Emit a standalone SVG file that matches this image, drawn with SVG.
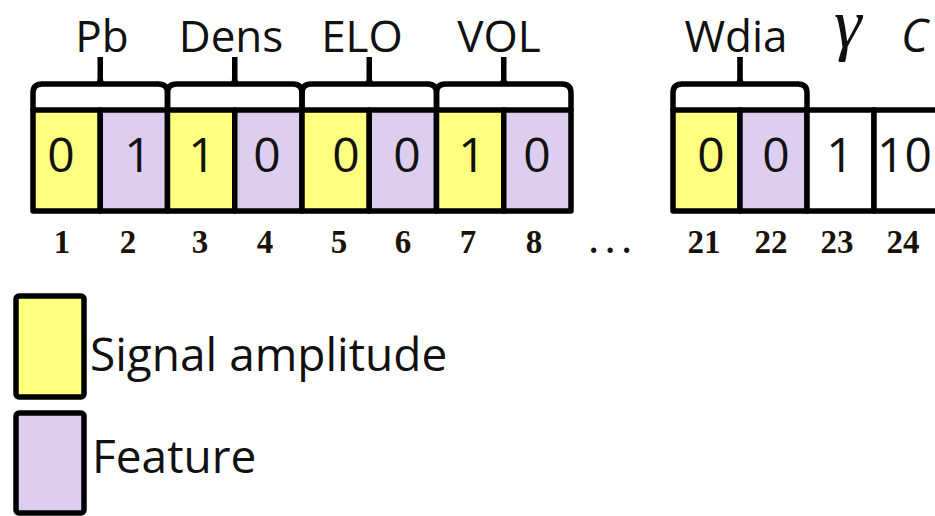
<svg xmlns="http://www.w3.org/2000/svg" width="935" height="516" viewBox="0 0 935 516">
  <style>
    .cell { stroke: #000; stroke-width: 5.5; stroke-linejoin: round; }
    .amp { fill: #FFFF7F; }
    .feat { fill: #DDCDEE; }
    .blank { fill: #FFFFFF; }
    .val { font-family: "Open Sans", "Noto Sans", sans-serif; font-size: 48px; fill: #111; text-anchor: middle; }
    .val.start { text-anchor: start; }
    .idx { font-family: "Liberation Serif", "Times New Roman", serif; font-weight: bold; font-size: 33px; fill: #1a1208; text-anchor: middle; }
    .lbl { font-family: "Open Sans", "Noto Sans", sans-serif; font-size: 44px; fill: #111; text-anchor: middle; }
    .brace { fill: none; stroke: #000; stroke-width: 5.5; stroke-linejoin: round; stroke-linecap: round; }
    .stem { fill: #000; }
    .legend { font-family: "Open Sans", "Noto Sans", sans-serif; font-size: 46px; fill: #111; }
  </style>

  <rect width="935" height="516" fill="#FFFFFF"/>

  <!-- group labels -->
  <g id="labels">
    <text class="lbl" x="102" y="52">Pb</text>
    <text class="lbl" x="231" y="52">Dens</text>
    <text class="lbl" x="362" y="52">ELO</text>
    <text class="lbl" x="499" y="52">VOL</text>
    <text class="lbl" x="736" y="52">Wdia</text>
    <text x="834" y="47" font-family="Liberation Serif, serif" font-style="italic" font-size="70" fill="#111">γ</text>
    <text x="901" y="52" font-family="Open Sans, sans-serif" font-style="italic" font-size="46" fill="#111">C</text>
  </g>

  <!-- braces grouping cell pairs -->
  <g id="connectors">
    <path class="brace" d="M33 110 V93 Q33 84 42 84 H158.5 Q167.5 84 167.5 93 V110"/>
    <path class="stem" d="M97.5 57 H103 V79 Q103.5 84 108 85 H92.5 Q97 84 97.5 79 Z"/>
    <path class="brace" d="M167.5 110 V93 Q167.5 84 176.5 84 H293 Q302 84 302 93 V110"/>
    <path class="stem" d="M232 57 H237.5 V79 Q238 84 242.5 85 H227 Q231.5 84 232 79 Z"/>
    <path class="brace" d="M302 110 V93 Q302 84 311 84 H427.5 Q436.5 84 436.5 93 V110"/>
    <path class="stem" d="M366.5 57 H372 V79 Q372.5 84 377 85 H361.5 Q366 84 366.5 79 Z"/>
    <path class="brace" d="M436.5 110 V93 Q436.5 84 445.5 84 H562 Q571 84 571 93 V110"/>
    <path class="stem" d="M501 57 H506.5 V79 Q507 84 511.5 85 H496 Q500.5 84 501 79 Z"/>
    <path class="brace" d="M673 110 V93 Q673 84 682 84 H798 Q807 84 807 93 V110"/>
    <path class="stem" d="M737.2 57 H742.8 V79 Q743.3 84 747.8 85 H732.2 Q736.7 84 737.2 79 Z"/>
  </g>

  <!-- cells 1-8 -->
  <g id="cell-1"><rect class="cell amp" x="33" y="110" width="67.25" height="101"/><text class="val" x="61" y="172">0</text><text class="idx" x="62" y="253">1</text></g>
  <g id="cell-2"><rect class="cell feat" x="100.25" y="110" width="67.25" height="101"/><text class="val" x="138" y="172">1</text><text class="idx" x="128" y="253">2</text></g>
  <g id="cell-3"><rect class="cell amp" x="167.5" y="110" width="67.25" height="101"/><text class="val" x="202" y="172">1</text><text class="idx" x="200" y="253">3</text></g>
  <g id="cell-4"><rect class="cell feat" x="234.75" y="110" width="67.25" height="101"/><text class="val" x="267" y="172">0</text><text class="idx" x="265" y="253">4</text></g>
  <g id="cell-5"><rect class="cell amp" x="302" y="110" width="67.25" height="101"/><text class="val" x="346" y="172">0</text><text class="idx" x="339" y="253">5</text></g>
  <g id="cell-6"><rect class="cell feat" x="369.25" y="110" width="67.25" height="101"/><text class="val" x="407" y="172">0</text><text class="idx" x="403" y="253">6</text></g>
  <g id="cell-7"><rect class="cell amp" x="436.5" y="110" width="67.25" height="101"/><text class="val" x="472" y="172">1</text><text class="idx" x="468" y="253">7</text></g>
  <g id="cell-8"><rect class="cell feat" x="503.75" y="110" width="67.25" height="101"/><text class="val" x="537" y="172">0</text><text class="idx" x="534" y="253">8</text></g>

  <text id="ellipsis" class="idx" x="610" y="253">. . .</text>

  <!-- cells 21-24 -->
  <g id="cell-21"><rect class="cell amp" x="673" y="110" width="67" height="101"/><text class="val" x="711" y="172">0</text><text class="idx" x="704" y="253">21</text></g>
  <g id="cell-22"><rect class="cell feat" x="740" y="110" width="67" height="101"/><text class="val" x="776" y="172">0</text><text class="idx" x="771" y="253">22</text></g>
  <g id="cell-23"><rect class="cell blank" x="807" y="110" width="67" height="101"/><text class="val" x="840" y="172">1</text><text class="idx" x="837" y="253">23</text></g>
  <g id="cell-24"><rect class="cell blank" x="874" y="110" width="67" height="101"/><text class="val start" x="877" y="172">10</text><text class="idx" x="903" y="253">24</text></g>

  <!-- legend -->
  <g id="legend-amplitude">
    <rect class="cell amp" x="16" y="296" width="68" height="101" rx="3" stroke-width="6"/>
    <text class="legend" x="90" y="371">Signal amplitude</text>
  </g>
  <g id="legend-feature">
    <rect class="cell feat" x="16" y="413" width="68" height="100" rx="3" stroke-width="6"/>
    <text class="legend" x="92" y="473">Feature</text>
  </g>
</svg>
